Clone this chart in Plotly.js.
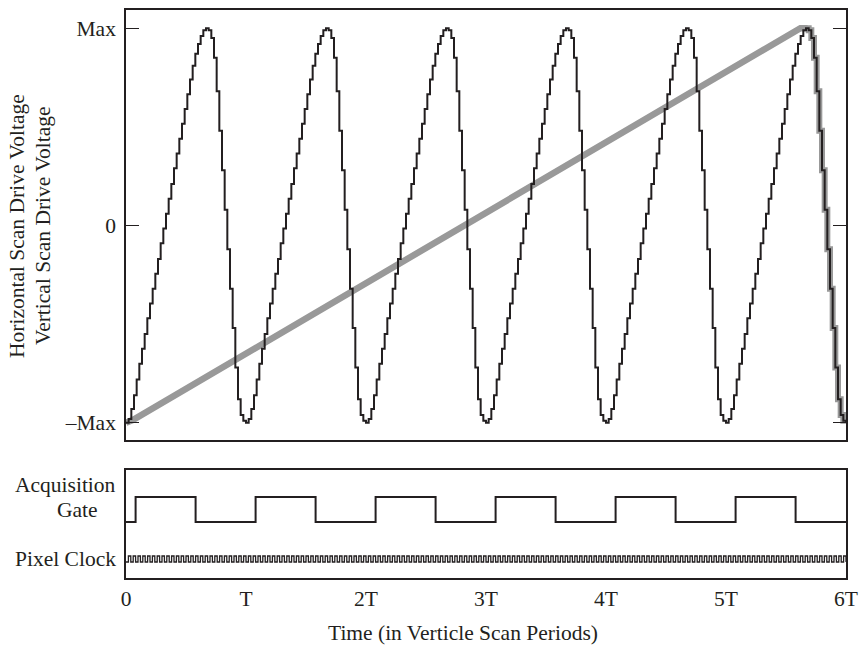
<!DOCTYPE html>
<html>
<head>
<meta charset="utf-8">
<script src="https://cdn.plot.ly/plotly-3.0.1.min.js"></script>
<style>html,body{margin:0;padding:0;background:#fff;}#chart{width:859px;height:652px;}</style>
</head>
<body>
<div id="chart"></div>
<script>
// ---- data ----
// one scan period of the sampled (stepped) horizontal drive, in units of Max
const cycleLevels = [-1.0, -0.98, -0.93, -0.86, -0.78, -0.70, -0.625, -0.55, -0.47, -0.395,
  -0.32, -0.245, -0.17, -0.09, -0.015, 0.06, 0.135, 0.21, 0.29, 0.365,
  0.44, 0.515, 0.59, 0.665, 0.74, 0.81, 0.87, 0.92, 0.96, 0.99,
  1.0, 0.99, 0.95, 0.85, 0.68, 0.48, 0.28, 0.08, -0.12, -0.32,
  -0.52, -0.72, -0.88, -0.96, -0.99];
const cycleCount = 6;
// vertical drive ramp (gray)
const rampTimes = [0, 0.06, 5.62, 5.68];
const rampLevels = [-1, -0.985, 1, 1];
// acquisition gate
const gateTimes = [0, 0.08, 0.58, 1.08, 1.58, 2.08, 2.58, 3.08, 3.58, 4.08, 4.58, 5.08, 5.58, 6];
const gateLevels = [0, 1, 0, 1, 0, 1, 0, 1, 0, 1, 0, 1, 0, 0];
// pixel clock
const clockPattern = [0, 1];
const clockCyclesPerPeriod = 25;
// ticks
const xTickVals = [0, 1, 2, 3, 4, 5, 6];
const xTickText = ['0', 'T', '2T', '3T', '4T', '5T', '6T'];
const yTickVals = [-1, 0, 1];
const yTickText = ['\u2013Max', '0', 'Max'];

// ---- build traces ----
const n = cycleLevels.length;
const sx = [], sy = [];
for (let k = 0; k < cycleCount; k++) {
  for (let i = 0; i < n; i++) { sx.push(k + i / n); sy.push(cycleLevels[i]); }
}
sx.push(cycleCount); sy.push(cycleLevels[0]);
const peakIdx = cycleLevels.indexOf(Math.max(...cycleLevels));
const fallStart = (cycleCount - 1) * n + peakIdx;

const cx = [], cy = [];
const half = 1 / (clockCyclesPerPeriod * clockPattern.length);
for (let j = 0; j <= cycleCount * clockCyclesPerPeriod * clockPattern.length; j++) {
  cx.push(j * half); cy.push(clockPattern[j % clockPattern.length]);
}

const ink = '#231f20';
const gray = '#999999';
const traces = [
  {x: rampTimes, y: rampLevels, mode: 'lines', line: {color: gray, width: 6.5}, xaxis: 'x', yaxis: 'y', hoverinfo: 'skip'},
  {x: sx.slice(fallStart), y: sy.slice(fallStart), mode: 'lines', line: {color: gray, width: 6, shape: 'hv', simplify: false}, xaxis: 'x', yaxis: 'y', hoverinfo: 'skip'},
  {x: sx, y: sy, mode: 'lines', line: {color: ink, width: 2, shape: 'hv', simplify: false}, xaxis: 'x', yaxis: 'y'},
  {x: gateTimes, y: gateLevels, mode: 'lines', line: {color: ink, width: 2, shape: 'hv'}, xaxis: 'x2', yaxis: 'y2'},
  {x: cx, y: cy, mode: 'lines', line: {color: ink, width: 1.3, shape: 'hv', simplify: false}, xaxis: 'x2', yaxis: 'y3'}
];

const fnt = {family: 'Liberation Serif, Times New Roman, serif', size: 21.5, color: ink};
const px = p => (p - 126) / 720;
const py = p => (578 - p) / 568;

const boxAxis = {showline: true, mirror: true, linecolor: ink, linewidth: 1.8, showgrid: false, zeroline: false};

const layout = {
  width: 859, height: 652,
  margin: {l: 126, r: 13, t: 10, b: 74, pad: 0},
  paper_bgcolor: '#fff', plot_bgcolor: '#fff',
  showlegend: false,
  font: fnt,
  xaxis: Object.assign({}, boxAxis, {domain: [0, 1], range: [0, 6], anchor: 'y', showticklabels: false, ticks: ''}),
  yaxis: Object.assign({}, boxAxis, {domain: [py(440), 1], range: [-1.087, 1.092], anchor: 'x',
    tickvals: yTickVals, ticktext: yTickText, ticks: 'inside', ticklen: 13, tickwidth: 1.3, tickcolor: ink,
    mirror: 'allticks', ticklabelstandoff: 4, tickfont: fnt}),
  xaxis2: Object.assign({}, boxAxis, {domain: [0, 1], range: [0, 6], anchor: 'y2',
    tickvals: xTickVals, ticktext: xTickText, ticks: '', ticklabelstandoff: 0, tickfont: fnt}),
  yaxis2: Object.assign({}, boxAxis, {domain: [0, py(470)], range: [-2.24, 2.08], anchor: 'x2', showticklabels: false, ticks: ''}),
  yaxis3: {domain: [0, py(470)], range: [-2.67, 15.33], overlaying: 'y2', anchor: 'x2', visible: false, showgrid: false, zeroline: false},
  annotations: [
    {text: 'Acquisition', xref: 'paper', yref: 'paper', x: px(118), y: py(485), xanchor: 'right', yanchor: 'middle', showarrow: false, font: fnt},
    {text: 'Gate', xref: 'paper', yref: 'paper', x: px(77), y: py(510), xanchor: 'center', yanchor: 'middle', showarrow: false, font: fnt},
    {text: 'Pixel Clock', xref: 'paper', yref: 'paper', x: px(118), y: py(559), xanchor: 'right', yanchor: 'middle', showarrow: false, font: fnt},
    {text: 'Time (in Verticle Scan Periods)', xref: 'paper', yref: 'paper', x: px(463), y: py(633), xanchor: 'center', yanchor: 'middle', showarrow: false, font: fnt},
    {text: 'Horizontal Scan Drive Voltage', xref: 'paper', yref: 'paper', x: px(17), y: py(226), xanchor: 'center', yanchor: 'middle', textangle: -90, showarrow: false, font: fnt},
    {text: 'Vertical Scan Drive Voltage', xref: 'paper', yref: 'paper', x: px(43), y: py(226), xanchor: 'center', yanchor: 'middle', textangle: -90, showarrow: false, font: fnt}
  ]
};

Plotly.newPlot('chart', traces, layout, {displayModeBar: false, staticPlot: true});
</script>
</body>
</html>
